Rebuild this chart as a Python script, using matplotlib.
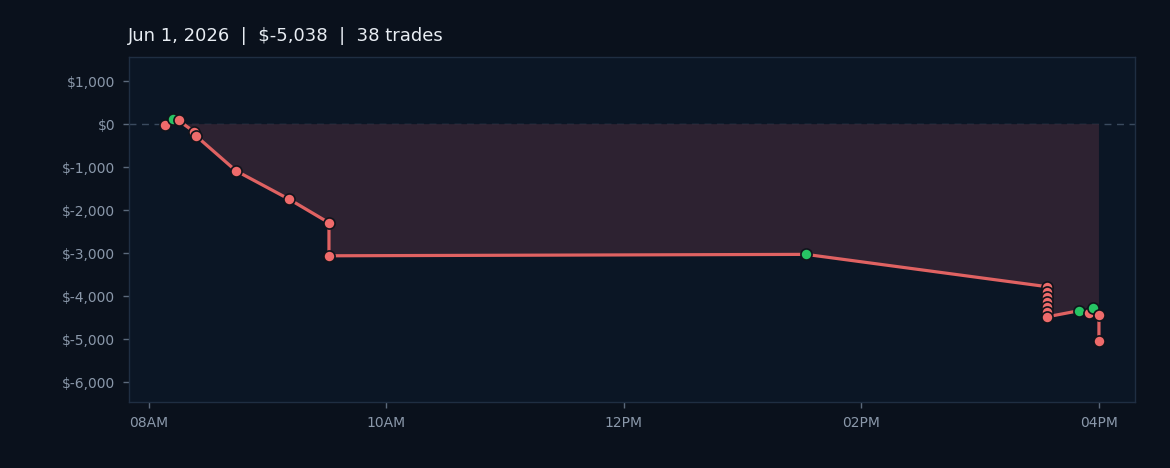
import matplotlib
matplotlib.use("Agg")
import matplotlib.pyplot as plt
import matplotlib.dates as mdates
import numpy as np
from datetime import datetime

# ---- data ----
trade_times = ["08:08", "08:12", "08:15", "08:23", "08:24", "08:44", "09:11", "09:31", "09:31",
               "13:32",
               "15:34", "15:34", "15:34", "15:34", "15:34", "15:34", "15:34",
               "15:50", "15:55", "15:57", "16:00", "16:00"]
cum_pnl = [-25, 110, 85, -180, -280, -1085, -1750, -2295, -3063,
           -3030,
           -3783, -3900, -4016, -4132, -4249, -4365, -4481,
           -4340, -4385, -4280, -4440, -5038]
n_trades = 38
date_label = "Jun 1, 2026"
y_ticks = [1000, 0, -1000, -2000, -3000, -4000, -5000, -6000]
x_tick_hours = [8, 10, 12, 14, 16]

# ---- styling ----
FIG_BG = "#0a111c"
AX_BG = "#0b1625"
SPINE = "#1f2e42"
TEXT = "#8a98aa"
TITLE = "#e8edf3"
RED = "#ef6b6b"
LINE = "#e06262"
GREEN = "#27c464"
FILL = "#2d2231"

times = [datetime(2026, 6, 1, int(t[:2]), int(t[3:])) for t in trade_times]
xnum = mdates.date2num(times)
y = np.array(cum_pnl, dtype=float)
prev = np.concatenate([[0.0], y[:-1]])
colors = [GREEN if v > p else RED for v, p in zip(y, prev)]

fig = plt.figure(figsize=(11.7, 4.68), dpi=100, facecolor=FIG_BG)
ax = fig.add_axes([0.1103, 0.141, 0.8597, 0.737])
ax.set_facecolor(AX_BG)

ax.axhline(0, color="#3a4a5e", lw=1, ls=(0, (5, 4)), zorder=1)
ax.fill_between(xnum, y, 0, where=y < 0, interpolate=True, color=FILL, alpha=1.0, zorder=1.5, lw=0)
ax.plot(xnum, y, color=LINE, lw=2.3, zorder=2, solid_capstyle="round")
for xi, yi, c in zip(xnum, y, colors):
    ax.plot([xi], [yi], marker="o", ms=8.0, mfc=c, mec="#10141c", mew=1.2, zorder=3, ls="none")

x0 = mdates.date2num(datetime(2026, 6, 1, 7, 50))
x1 = mdates.date2num(datetime(2026, 6, 1, 16, 18, 10))
ax.set_xlim(x0, x1)
ax.set_ylim(-6465, 1560)

ax.set_yticks(y_ticks)
ax.set_yticklabels([f"${v:,}" for v in y_ticks])
ax.set_xticks([mdates.date2num(datetime(2026, 6, 1, h)) for h in x_tick_hours])
ax.xaxis.set_major_formatter(mdates.DateFormatter("%I%p"))

ax.tick_params(labelsize=10, length=4, width=1, pad=6, colors="#5c6a7c", labelcolor=TEXT)
for s in ax.spines.values():
    s.set_color(SPINE)
    s.set_linewidth(1)

total = cum_pnl[-1]
fig.text(128 / 1170, 1 - 36 / 468, f"{date_label}  |  ${total:,}  |  {n_trades} trades",
         color=TITLE, fontsize=13, ha="left", va="center")

fig.savefig("out.png", dpi=100, facecolor=FIG_BG)
